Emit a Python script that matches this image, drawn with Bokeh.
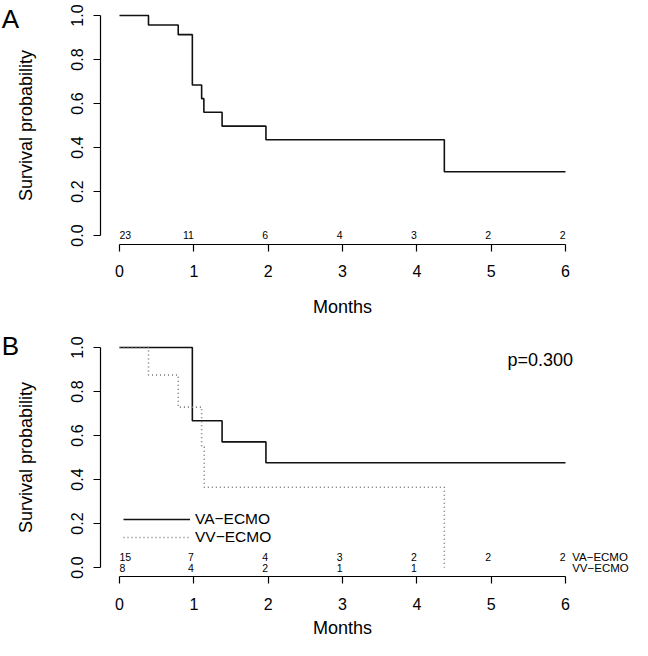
from bokeh.plotting import figure
from bokeh.models import (Range1d, FixedTicker, NumeralTickFormatter, Label, Legend, LegendItem,
                          ColumnDataSource)
from bokeh.core.properties import value
from bokeh.layouts import column
from bokeh.embed import file_html
from bokeh.resources import INLINE

FONT = "Liberation Sans"

# ---------------- data ----------------
month_ticks = [0, 1, 2, 3, 4, 5, 6]
prob_ticks = [0.0, 0.2, 0.4, 0.6, 0.8, 1.0]

# Panel A: overall Kaplan-Meier curve
a_times = [0.0, 0.39, 0.79, 0.98, 1.105, 1.135, 1.38, 1.97, 4.37, 6.0]
a_surv = [1.0, 0.957, 0.913, 0.684, 0.622, 0.560, 0.497, 0.435, 0.290, 0.290]
a_risk_months = [0, 1, 2, 3, 4, 5, 6]
a_risk = [23, 11, 6, 4, 3, 2, 2]

# Panel B: by ECMO type
va_times = [0.0, 0.98, 1.38, 1.97, 6.0]
va_surv = [1.0, 0.667, 0.571, 0.476, 0.476]
vv_times = [0.0, 0.39, 0.79, 1.105, 1.14, 4.37]
vv_surv = [1.0, 0.875, 0.729, 0.547, 0.365, 0.0]
va_risk_months = [0, 1, 2, 3, 4, 5, 6]
va_risk = [15, 7, 4, 3, 2, 2, 2]
vv_risk_months = [0, 1, 2, 3, 4]
vv_risk = [8, 4, 2, 1, 1]
group_names = ["VA\u2212ECMO", "VV\u2212ECMO"]
p_text = "p=0.300"

W = 632
X_RANGE = (-1.6009, 6.9013)   # frame spans the whole width; x=0 at 119px, x=6 at 565px
X_AXIS_AT = -0.0409           # R-style detached axes (4% outside the data)
Y_AXIS_AT = -0.25


def make_fig(height, y_range, title_standoff):
    p = figure(width=W, height=height, output_backend="svg", toolbar_location=None,
               x_range=Range1d(*X_RANGE), y_range=Range1d(*y_range),
               min_border_left=0, min_border_right=0,
               min_border_top=0, min_border_bottom=0)
    p.outline_line_color = None
    p.xgrid.visible = False
    p.ygrid.visible = False
    p.background_fill_color = "white"
    p.border_fill_color = "white"
    for ax in (p.xaxis[0], p.yaxis[0]):
        ax.axis_line_color = "black"
        ax.axis_line_width = 1.2
        ax.major_tick_line_color = "black"
        ax.major_tick_line_width = 1.2
        ax.major_tick_out = 7
        ax.major_tick_in = 0
        ax.minor_tick_line_color = None
        ax.major_label_text_font = FONT
        ax.major_label_text_font_size = "16px"
        ax.major_label_text_color = "black"
        ax.axis_label_text_font = FONT
        ax.axis_label_text_font_size = "18px"
        ax.axis_label_text_font_style = "normal"
        ax.axis_label_text_color = "black"
    p.xaxis.ticker = FixedTicker(ticks=month_ticks)
    p.xaxis.bounds = (month_ticks[0], month_ticks[-1])
    p.xaxis.major_label_standoff = 14
    p.xaxis.axis_label = "Months"
    p.xaxis.axis_label_standoff = title_standoff
    p.xaxis.fixed_location = X_AXIS_AT
    p.yaxis.ticker = FixedTicker(ticks=prob_ticks)
    p.yaxis.bounds = (prob_ticks[0], prob_ticks[-1])
    p.yaxis.formatter = NumeralTickFormatter(format="0.0")
    p.yaxis.major_label_orientation = "vertical"
    p.yaxis.major_label_standoff = 11
    p.yaxis.axis_label = "Survival probability"
    p.yaxis.axis_label_standoff = 32
    p.yaxis.fixed_location = Y_AXIS_AT
    return p


def risk_row(p, months, counts, y, size="10.5px"):
    # first count left-aligned at 0, the others right-aligned at their month
    src0 = ColumnDataSource(dict(x=months[:1], y=[y], t=[str(c) for c in counts[:1]]))
    src1 = ColumnDataSource(dict(x=months[1:], y=[y] * (len(months) - 1),
                                 t=[str(c) for c in counts[1:]]))
    for src, al in ((src0, "left"), (src1, "right")):
        p.text(x="x", y="y", text="t", source=src, text_align=al, text_baseline="middle",
               text_font=value(FONT), text_font_size=size, text_color="black")


# ---------------- panel A ----------------
H1 = 325
p1 = make_fig(H1, (-0.4091, 1.0682), 16)
p1.step(a_times, a_surv, mode="after", line_color="#111111", line_width=1.6)
risk_row(p1, a_risk_months, a_risk, 0.0)
p1.add_layout(Label(x=10, y=H1 - 18, x_units="screen", y_units="screen", text="A",
                    text_font=FONT, text_font_size="26px", text_align="center",
                    text_baseline="middle", text_color="black"))

# ---------------- panel B ----------------
H2 = 315
p2 = make_fig(H2, (-0.3318, 1.1), 5)
r_va = p2.step(va_times, va_surv, mode="after", line_color="#111111", line_width=1.6)
r_vv = p2.step(vv_times, vv_surv, mode="after", line_color="#777777", line_width=1.6,
               line_dash="1 3")
risk_row(p2, va_risk_months, va_risk, 0.05)
risk_row(p2, vv_risk_months, vv_risk, 0.0)
for name, yy in zip(group_names, [0.05, 0.0]):
    p2.add_layout(Label(x=6.09, y=yy, text=name, text_font=FONT, text_font_size="11.5px",
                        text_align="left", text_baseline="middle", text_color="black"))
p2.add_layout(Label(x=5.22, y=0.941, text=p_text, text_font=FONT, text_font_size="18px",
                    text_align="left", text_baseline="middle", text_color="black"))
p2.add_layout(Label(x=10, y=H2 - 20, x_units="screen", y_units="screen", text="B",
                    text_font=FONT, text_font_size="26px", text_align="center",
                    text_baseline="middle", text_color="black"))

legend = Legend(items=[LegendItem(label=group_names[0], renderers=[r_va]),
                       LegendItem(label=group_names[1], renderers=[r_vv])],
                location=(123, 94), glyph_width=67, glyph_height=18, label_height=18,
                label_standoff=5, spacing=0, padding=0, margin=0,
                border_line_alpha=0, background_fill_alpha=0,
                label_text_font=FONT, label_text_font_size="15.5px", label_text_color="black")
p2.add_layout(legend, "center")

layout = column(p1, p2, spacing=0)
open("out.html", "w").write(file_html(layout, INLINE))
